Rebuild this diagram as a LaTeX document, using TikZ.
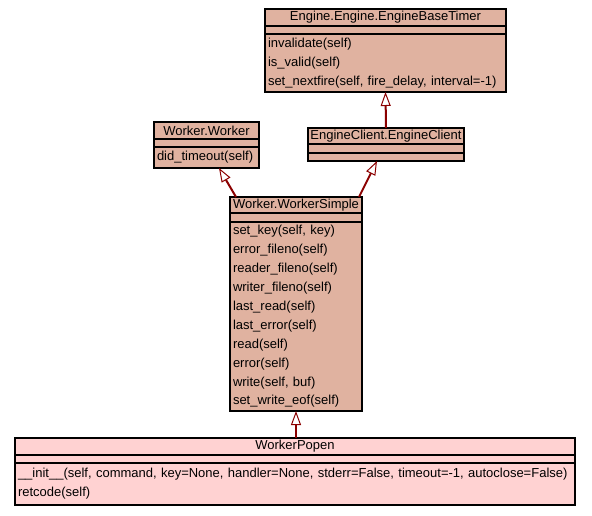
\documentclass[tikz,border=0pt]{standalone}
\usepackage{fontspec}
\setmainfont{Liberation Sans}
\usepackage{xcolor}
\usetikzlibrary{arrows.meta,positioning}
\definecolor{clsfill}{RGB}{224,178,160}
\definecolor{popfill}{RGB}{255,210,210}
\definecolor{edgered}{RGB}{139,0,0}

\begin{document}
\begin{tikzpicture}[
  x=1pt,y=-1pt,
  font=\fontsize{13pt}{18.9pt}\selectfont,
  part/.style={draw,line width=1.1pt,fill=clsfill,outer sep=0pt,inner sep=0pt},
  title/.style={part,minimum height=17pt,anchor=north west},
  attrs/.style={part,minimum height=8pt,below=0pt of #1},
  meths/.style={part,align=left,inner xsep=3pt,inner ysep=2.5pt,below=0pt of #1},
  inherit/.style={draw=edgered,line width=2pt,-{Triangle[length=14pt,width=10pt,fill=white,line width=1pt]}}
]
\useasboundingbox (0,0) rectangle (592,515);
% Engine.Engine.EngineBaseTimer
\node[title,minimum width=241pt] (timer) at (265,9) {Engine.Engine.EngineBaseTimer};
\node[attrs=timer,minimum width=241pt] (timerattr) {};
\node[meths=timerattr,text width=235pt,minimum height=58pt] (timermeth) {invalidate(self)\\is\_valid(self)\\set\_nextfire(self, fire\_delay, interval=-1)};
% Worker.Worker
\node[title,minimum width=105pt] (worker) at (154,122) {Worker.Worker};
\node[attrs=worker,minimum width=105pt] (workerattr) {};
\node[meths=workerattr,text width=99pt,minimum height=21pt] (workermeth) {did\_timeout(self)};
% EngineClient.EngineClient
\node[title,minimum width=156pt,minimum height=16pt] (client) at (308,128) {EngineClient.EngineClient};
\node[attrs=client,minimum width=156pt,minimum height=9pt] (clientattr) {};
\node[attrs=clientattr,minimum width=156pt] (clientmeth) {};
% Worker.WorkerSimple
\node[title,minimum width=132pt,minimum height=16pt] (simple) at (230,197) {Worker.WorkerSimple};
\node[attrs=simple,minimum width=132pt,minimum height=9pt] (simpleattr) {};
\node[meths=simpleattr,text width=126pt,minimum height=189pt] (simplemeth) {set\_key(self, key)\\error\_fileno(self)\\reader\_fileno(self)\\writer\_fileno(self)\\last\_read(self)\\last\_error(self)\\read(self)\\error(self)\\write(self, buf)\\set\_write\_eof(self)};
% WorkerPopen
\node[title,fill=popfill,minimum width=560pt] (popen) at (15,438) {WorkerPopen};
\node[attrs=popen,fill=popfill,minimum width=560pt] (popenattr) {};
\node[meths=popenattr,fill=popfill,text width=554pt,minimum height=42pt] (popenmeth) {\_\_init\_\_(self, command, key=None, handler=None, stderr=False, timeout=-1, autoclose=False)\\retcode(self)};
% inheritance
\draw[inherit] (client.north) -- (timermeth.south);
\draw[inherit] ([xshift=6pt]simple.north west) -- ([xshift=65pt]workermeth.south west);
\draw[inherit] ([xshift=-3pt]simple.north east) -- ([xshift=69pt]clientmeth.south west);
\draw[inherit] (popen.north -| simplemeth.south) -- (simplemeth.south);
\end{tikzpicture}
\end{document}
